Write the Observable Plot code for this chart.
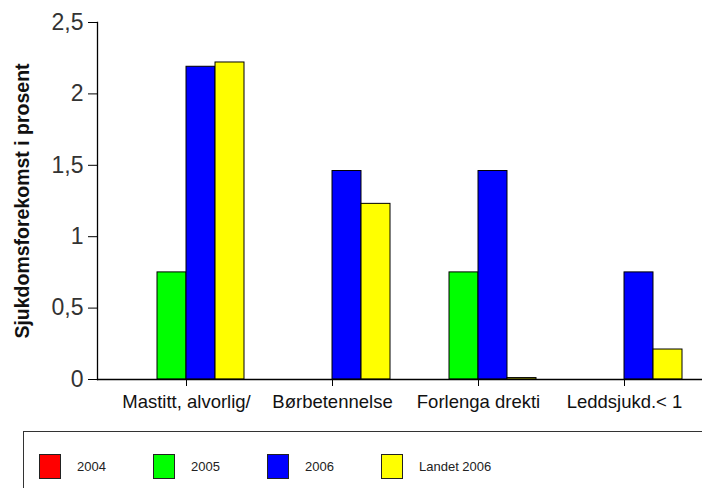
<!DOCTYPE html>
<html>
<head>
<meta charset="utf-8">
<script src="https://cdn.jsdelivr.net/npm/d3@7"></script>
<script src="https://cdn.jsdelivr.net/npm/@observablehq/plot@0.6"></script>
<style>
  html, body { margin: 0; padding: 0; background: #fff; }
  body { width: 702px; height: 488px; position: relative; overflow: hidden; font-family: "Liberation Sans", Arial, sans-serif; }
  #chart { position: absolute; left: 0; top: 0; }
  #legend { position: absolute; left: 23px; top: 431px; width: 700px; height: 70px; border: 1px solid #333; box-sizing: border-box; }
  .item { position: absolute; top: 22px; display: flex; align-items: center; }
  .sw { width: 22px; height: 25px; border: 1px solid #222; box-sizing: border-box; }
  .lab { margin-left: 16px; font-size: 13px; color: #222; }
</style>
</head>
<body>
<div id="chart"></div>
<div id="legend"></div>
<script>
const categories = ["Mastitt, alvorlig/", "Børbetennelse", "Forlenga drekti", "Leddsjukd.< 1"];
const seriesNames = ["2004", "2005", "2006", "Landet 2006"];
const values2004 = [0, 0, 0, 0];
const values2005 = [0.75, 0, 0.75, 0];
const values2006 = [2.19, 1.46, 1.46, 0.75];
const valuesLandet2006 = [2.22, 1.23, 0.01, 0.21];
const seriesColors = ["#ff0000", "#00ff00", "#0000ff", "#ffff00"];
const yTicks = [0, 0.5, 1, 1.5, 2, 2.5];

const allValues = [values2004, values2005, values2006, valuesLandet2006];

const paddingInner = 0.208, paddingOuter = 0.104;
const xRange = [111.75, 697.75];
const step = (xRange[1] - xRange[0]) / (categories.length - paddingInner + 2 * paddingOuter);
const bw = step * (1 - paddingInner);
const barW = bw / seriesNames.length;

const fmt = d => String(d).replace(".", ",");

const barMarks = seriesNames.map((s, i) => {
  const data = categories.map((c, j) => ({category: c, series: s, value: allValues[i][j]})).filter(d => d.value > 0);
  return Plot.barY(data, {
    x: "category", y: "value",
    fill: seriesColors[i], stroke: "#000", strokeWidth: 1,
    insetLeft: i * barW, insetRight: (seriesNames.length - 1 - i) * barW
  });
});

const chart = Plot.plot({
  width: 702, height: 420,
  marginLeft: 97, marginRight: 0, marginTop: 22, marginBottom: 41,
  style: {fontFamily: "'Liberation Sans', Arial, sans-serif", background: "transparent", color: "#000"},
  x: {domain: categories, range: xRange, paddingInner, paddingOuter, label: null},
  y: {domain: [0, 2.5], label: null},
  marks: [
    ...barMarks,
    Plot.axisY({ticks: yTicks, tickFormat: fmt, tickSize: 9, tickPadding: 5, fontSize: 23, label: null, stroke: "#000", fill: "#333"}),
    Plot.axisX({tickSize: 7, tickPadding: 8, fontSize: 18.5, label: null, stroke: "#000", fill: "#111"}),
    Plot.ruleY([0], {stroke: "#000", strokeWidth: 1.3}),
    Plot.frame({anchor: "left", stroke: "#000", strokeWidth: 1.3}),
    Plot.text(["Sjukdomsforekomst i prosent"], {
      frameAnchor: "left", textAnchor: "middle", dx: -75, rotate: -90, fontSize: 19.5, fontWeight: "bold", fill: "#111"
    })
  ]
});
document.getElementById("chart").appendChild(chart);

const legend = document.getElementById("legend");
seriesNames.forEach((s, i) => {
  const it = document.createElement("div");
  it.className = "item";
  it.style.left = (15 + i * 114) + "px";
  const sw = document.createElement("div");
  sw.className = "sw";
  sw.style.background = seriesColors[i];
  const lab = document.createElement("span");
  lab.className = "lab";
  lab.textContent = s;
  it.appendChild(sw); it.appendChild(lab);
  legend.appendChild(it);
});
</script>
</body>
</html>
